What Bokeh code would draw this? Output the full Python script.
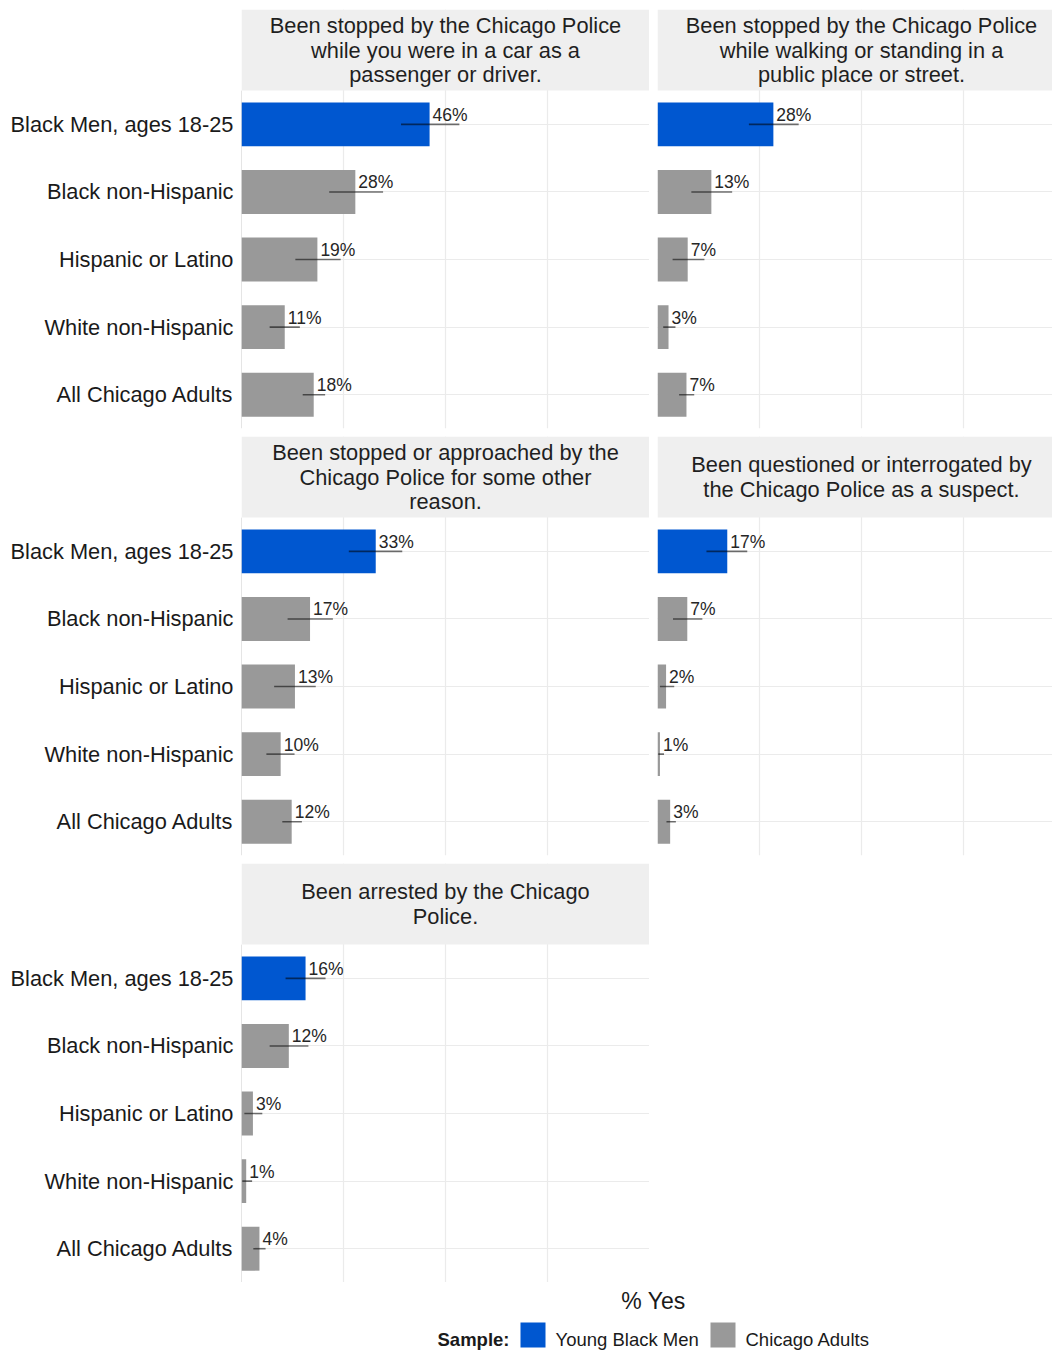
from bokeh.plotting import figure
from bokeh.layouts import column, row
from bokeh.models import Range1d, FixedTicker, ColumnDataSource
from bokeh.core.properties import value
from bokeh.embed import file_html
from bokeh.resources import INLINE

FONT = "Liberation Sans"

# ---------------- data ----------------
groups = ["Black Men, ages 18-25", "Black non-Hispanic", "Hispanic or Latino",
          "White non-Hispanic", "All Chicago Adults"]
group_sample = ["Young Black Men", "Chicago Adults", "Chicago Adults",
                "Chicago Adults", "Chicago Adults"]
sample_names = ["Young Black Men", "Chicago Adults"]
sample_colors = ["#0057d0", "#999999"]

titles = [
    "Been stopped by the Chicago Police\nwhile you were in a car as a\npassenger or driver.",
    "Been stopped by the Chicago Police\nwhile walking or standing in a\npublic place or street.",
    "Been stopped or approached by the\nChicago Police for some other\nreason.",
    "Been questioned or interrogated by\nthe Chicago Police as a suspect.",
    "Been arrested by the Chicago\nPolice.",
]

car_pct = [0.461, 0.279, 0.186, 0.106, 0.177]
car_lo = [0.391, 0.215, 0.132, 0.069, 0.150]
car_hi = [0.534, 0.347, 0.243, 0.143, 0.205]

walk_pct = [0.284, 0.132, 0.074, 0.027, 0.071]
walk_lo = [0.224, 0.083, 0.037, 0.014, 0.053]
walk_hi = [0.346, 0.183, 0.115, 0.044, 0.090]

other_pct = [0.329, 0.168, 0.131, 0.096, 0.123]
other_lo = [0.263, 0.113, 0.080, 0.061, 0.100]
other_hi = [0.394, 0.224, 0.182, 0.130, 0.148]

quest_pct = [0.171, 0.073, 0.021, 0.006, 0.031]
quest_lo = [0.120, 0.038, 0.006, 0.002, 0.022]
quest_hi = [0.220, 0.110, 0.041, 0.016, 0.045]

arrest_pct = [0.157, 0.116, 0.028, 0.0115, 0.044]
arrest_lo = [0.108, 0.069, 0.007, 0.002, 0.029]
arrest_hi = [0.206, 0.164, 0.051, 0.026, 0.059]

x_grid_ticks = [0, 0.25, 0.5, 0.75, 1.0]
x_axis_title = "% Yes"
legend_title = "Sample:"

# ---------------- layout constants (px) ----------------
PAGE_W, PAGE_H = 1052, 1361
FRAME_W = 408          # full panel width (0 .. 100%)
LEFT_BORDER = 241      # page margin + y-axis labels
RIGHT_GAP = 8
RIGHT_FRAME_W = PAGE_W - LEFT_BORDER - FRAME_W - RIGHT_GAP   # cut at page edge
FRAME_H = 419
STRIP_UNITS = 1.2
BAR_H = 0.65
BIG_FONT = "21.8px"


def make_panel(title, pct, lo, hi, left, top_b, bottom_b):
    frame_w = FRAME_W if left else RIGHT_FRAME_W
    xmax = frame_w / FRAME_W
    border_l = LEFT_BORDER if left else RIGHT_GAP
    p = figure(width=border_l + frame_w, height=top_b + FRAME_H + bottom_b,
               x_range=Range1d(0, xmax),
               y_range=Range1d(len(groups) - 0.5, -0.5 - STRIP_UNITS),
               x_axis_location=None,
               y_axis_location="left" if left else None,
               output_backend="svg", toolbar_location=None,
               min_border_left=border_l, min_border_right=0,
               min_border_top=top_b, min_border_bottom=bottom_b,
               background_fill_color="white", border_fill_color="white")
    p.outline_line_color = None

    p.xgrid.ticker = FixedTicker(ticks=x_grid_ticks)
    p.ygrid.ticker = FixedTicker(ticks=list(range(len(groups))))
    p.xgrid.grid_line_color = "#ebebeb"
    p.ygrid.grid_line_color = "#ebebeb"
    p.xgrid.grid_line_width = 1.2
    p.ygrid.grid_line_width = 1.2

    if left:
        ax = p.yaxis[0]
        ax.ticker = FixedTicker(ticks=list(range(len(groups))))
        ax.major_label_overrides = {i: g for i, g in enumerate(groups)}
        ax.axis_line_color = None
        ax.major_tick_line_color = None
        ax.minor_tick_line_color = None
        ax.major_tick_in = 0
        ax.major_tick_out = 0
        ax.major_label_standoff = 8
        ax.major_label_text_font = FONT
        ax.major_label_text_font_size = BIG_FONT
        ax.major_label_text_color = "#1a1a1a"
        p.segment(x0=[0], y0=[-0.5], x1=[0], y1=[len(groups) - 0.5],
                  line_color="#cccccc", line_width=1)

    idx = list(range(len(groups)))
    colors = [sample_colors[sample_names.index(s)] for s in group_sample]
    labels = [f"{v * 100:.0f}%" for v in pct]
    src = ColumnDataSource(dict(y=idx, pct=pct, lo=lo, hi=hi,
                                color=colors, label=labels))

    p.hbar(y="y", left=0, right="pct", height=BAR_H, fill_color="color",
           line_color=None, source=src)
    p.segment(x0="lo", y0="y", x1="hi", y1="y", line_color="#000000",
              line_alpha=0.55, line_width=1.6, source=src)
    p.text(x="pct", y="y", text="label", x_offset=3, y_offset=-9.5,
           text_align="left", text_baseline="alphabetic",
           text_font=value(FONT), text_font_size="17.5px",
           text_color="#262626", source=src)

    # facet strip
    p.quad(left=[0], right=[xmax], top=[-0.5 - STRIP_UNITS], bottom=[-0.5],
           fill_color="#efefef", line_color=None)
    p.text(x=[0.5], y=[-0.5 - STRIP_UNITS / 2], text=[title],
           text_align="center", text_baseline="middle",
           text_font=value(FONT), text_font_size=BIG_FONT,
           text_color="#1f1f1f", text_line_height=0.97)
    return p


p1 = make_panel(titles[0], car_pct, car_lo, car_hi, True, 9, 8)
p2 = make_panel(titles[1], walk_pct, walk_lo, walk_hi, False, 9, 8)
p3 = make_panel(titles[2], other_pct, other_lo, other_hi, True, 0, 8)
p4 = make_panel(titles[3], quest_pct, quest_lo, quest_hi, False, 0, 8)
p5 = make_panel(titles[4], arrest_pct, arrest_lo, arrest_hi, True, 0, 0)

# ---------------- footer: axis title + legend (page-pixel coordinates) ----------------
FOOT_TOP = 9 + 3 * FRAME_H + 2 * 8 + 8   # = 1282
FH = PAGE_H - FOOT_TOP
foot = figure(width=PAGE_W, height=FH,
              x_range=Range1d(LEFT_BORDER, PAGE_W), y_range=Range1d(PAGE_H, FOOT_TOP),
              x_axis_location=None, y_axis_location=None,
              output_backend="svg", toolbar_location=None,
              min_border_left=LEFT_BORDER, min_border_right=0, min_border_top=0,
              min_border_bottom=0, background_fill_color="white",
              border_fill_color="white")
foot.outline_line_color = None
foot.xgrid.visible = False
foot.ygrid.visible = False

foot.text(x=[653], y=[1308], text=[x_axis_title], text_align="center",
          text_baseline="alphabetic", text_font=value(FONT),
          text_font_size="23px", text_color="#1a1a1a")

LEG_BASE = 1347
foot.text(x=[437], y=[LEG_BASE], text=[legend_title], text_align="left",
          text_baseline="alphabetic", text_font=value(FONT),
          text_font_size="18.5px", text_font_style="bold", text_color="#1a1a1a")
sw_left = [520, 710]
foot.quad(left=sw_left, right=[x + 25 for x in sw_left],
          top=[LEG_BASE - 17] * 2, bottom=[LEG_BASE + 8] * 2,
          fill_color=sample_colors, line_color=None)
foot.text(x=[x + 35 for x in sw_left], y=[LEG_BASE] * 2, text=sample_names,
          text_align="left", text_baseline="alphabetic",
          text_font=value(FONT), text_font_size="18.5px", text_color="#1a1a1a")

layout = column(row(p1, p2), row(p3, p4), p5, foot)

open("out.html", "w").write(file_html(layout, INLINE))
